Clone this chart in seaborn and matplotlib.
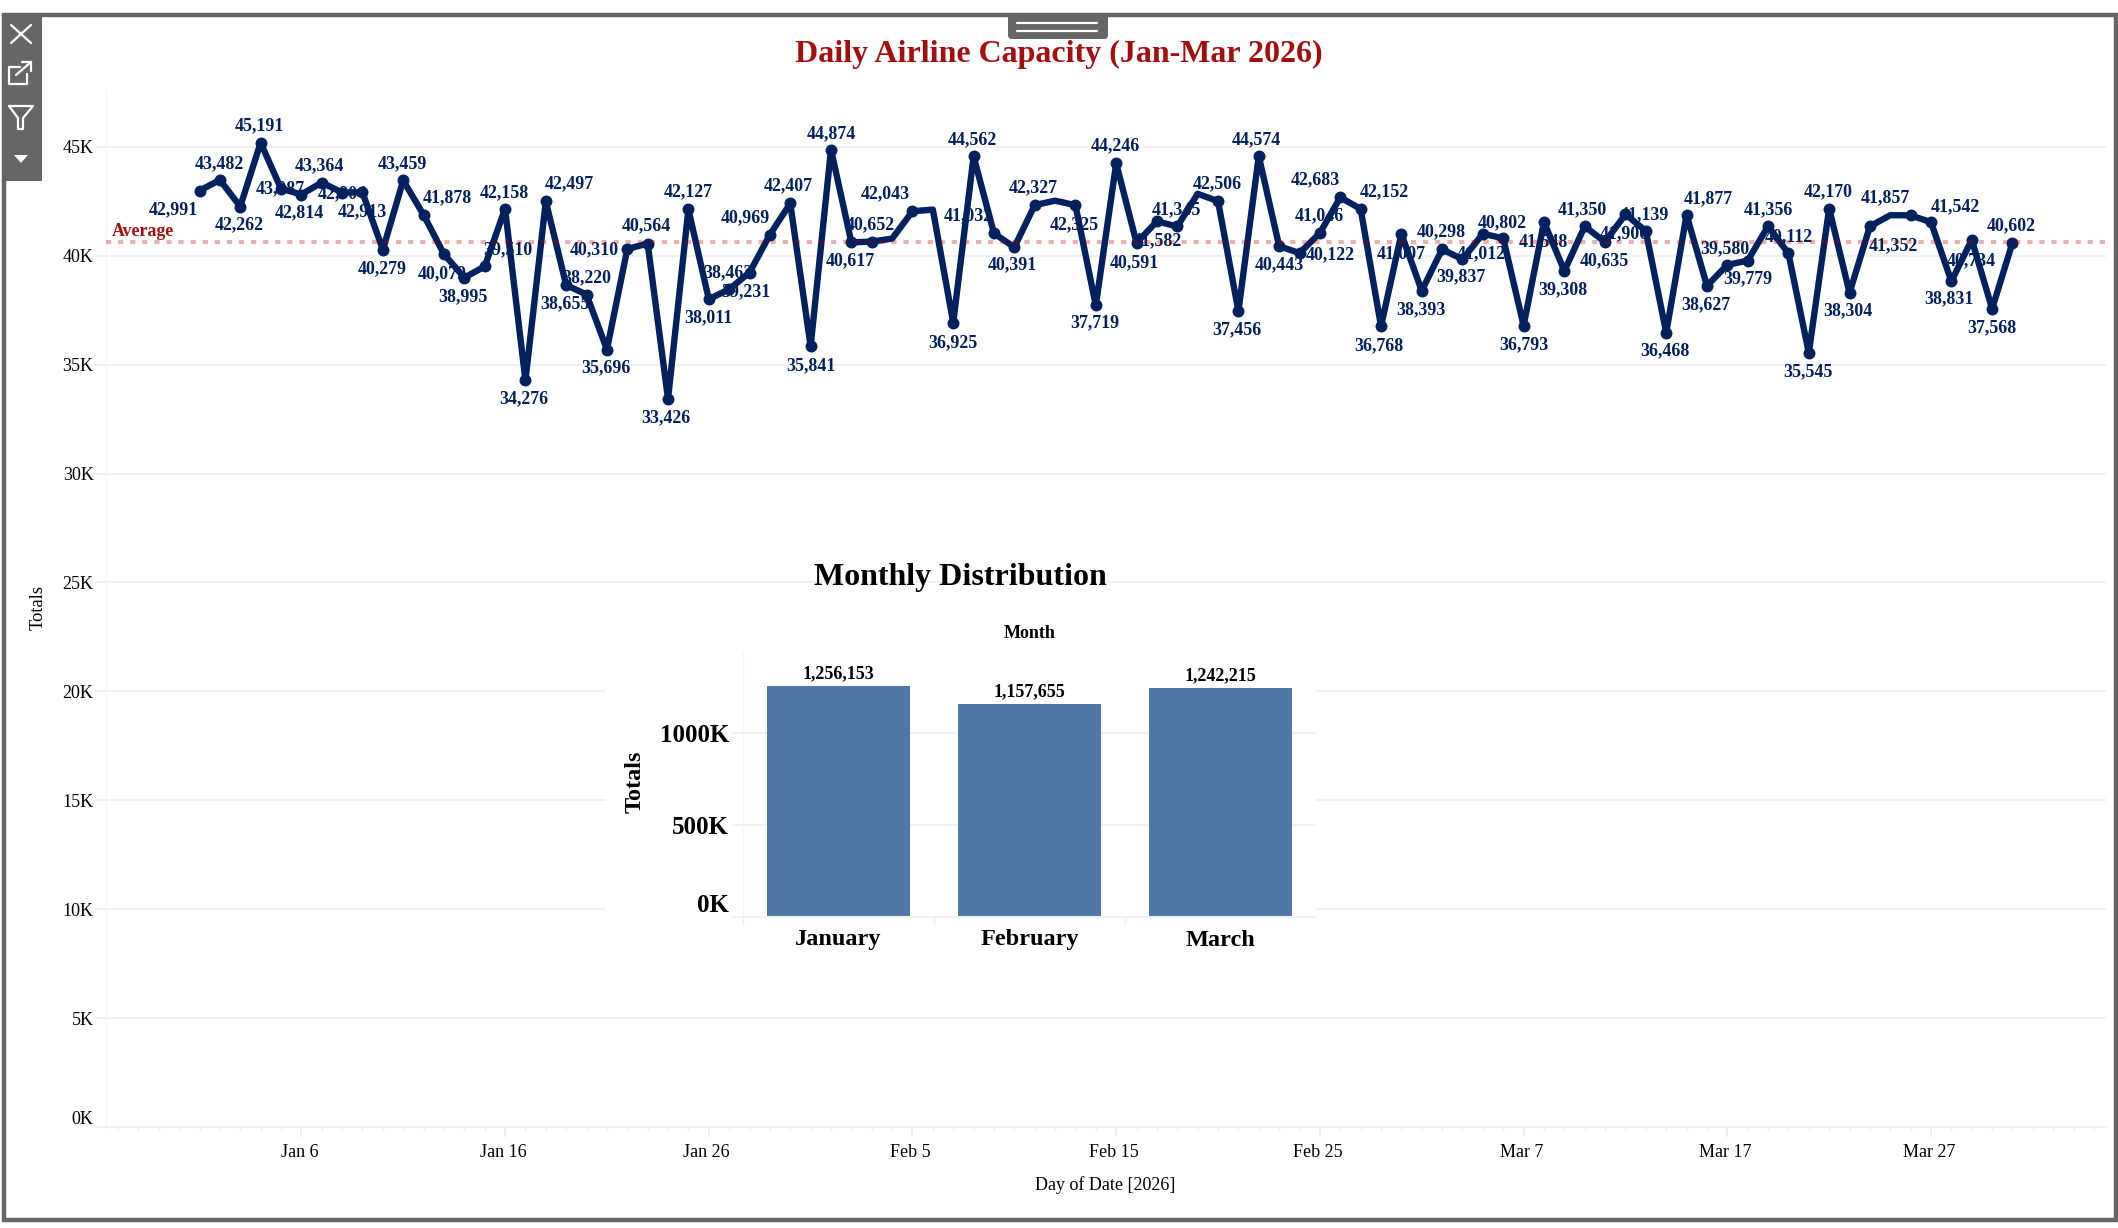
import numpy as np
import pandas as pd
import matplotlib
matplotlib.use("Agg")
import matplotlib.pyplot as plt
from matplotlib.lines import Line2D
from matplotlib.patches import FancyBboxPatch, Polygon, Rectangle
from matplotlib.ticker import FixedLocator, FuncFormatter
from matplotlib.transforms import Affine2D
import seaborn as sns

# values
JAN_TOTALS = [42991, 43482, 42262, 45191, 43087, 42814, 43364, 42904, 42913, 40279,
              43459, 41878, 40079, 38995, 39510, 42158, 34276, 42497, 38655, 38220,
              35696, 40310, 40564, 33426, 42127, 38011, 38462, 39231, 40969, 42407, 35841]
FEB_TOTALS = [44874, 40617, 40652, 40788, 42043, 42121, 36925, 44562, 41032, 40391,
              42327, 42530, 42325, 37719, 44246, 40591, 41582, 41345, 42848, 42506,
              37456, 44574, 40443, 40122, 41046, 42683, 42152, 36768]
MAR_TOTALS = [41007, 38393, 40298, 39837, 41012, 40802, 36793, 41548, 39308, 41350,
              40635, 41906, 41139, 36468, 41877, 38627, 39580, 39779, 41356, 40112,
              35545, 42170, 38304, 41352, 41864, 41857, 41542, 38831, 40734, 37568, 40602]
UNLABELLED_DAYS = ["2026-02-04", "2026-02-06", "2026-02-12", "2026-02-19", "2026-03-25"]
AVERAGE = 40622

MONTHS = ["January", "February", "March"]
MONTH_TOTALS = [1256153, 1157655, 1242215]

Y_TICKS = [0, 5000, 10000, 15000, 20000, 25000, 30000, 35000, 40000, 45000]
X_TICK_DATES = ["2026-01-06", "2026-01-16", "2026-01-26", "2026-02-05", "2026-02-15",
                "2026-02-25", "2026-03-07", "2026-03-17", "2026-03-27"]
X_TICK_LABELS = ["Jan 6", "Jan 16", "Jan 26", "Feb 5", "Feb 15", "Feb 25", "Mar 7", "Mar 17", "Mar 27"]
INSET_Y_TICKS = [0, 500000, 1000000]

# label placement relative to its point, in pixels, one per labelled day
LABEL_OFFSETS = [
    (-26, -18), (0, 18), (-1, -17), (-1, 18), (-1, 1), (-2, -17), (-2, 18), (0, 0), (0, -18), (-1, -18),
    (-1, 18), (24, 19), (-2, -18), (-1, -18), (23, 18), (-1, 18), (-2, -17), (24, 19), (-1, -17), (0, 18),
    (-1, -17), (-33, 1), (-1, 19), (-2, -17), (0, 19), (0, -17), (-1, 18), (-4, -18), (-25, 18), (-2, 19), (0, -18),
    # February
    (0, 17), (-1, -17), (-1, 18), (-27, 19), (0, -18), (-1, 18), (-26, 19), (-2, -16),
    (-1, 19), (-1, -18), (-1, -16), (-1, 19), (-2, -18), (0, -18), (-1, 18), (-1, 19),
    (-2, -17), (-2, 18), (0, -17), (31, 0), (-1, 19), (-25, 19), (24, 19), (-2, -18),
    # March
    (0, -18), (-1, -17), (-1, 19), (-2, -16), (-2, -18), (-1, 17), (0, -18), (-1, -18), (-1, -17), (-2, 18),
    (-1, -17), (-1, -18), (-1, 18), (-1, -17), (22, 18), (-1, -18), (-2, 18), (0, -17), (0, 18), (0, 18),
    (-1, -17), (-1, 18), (-2, -17), (23, -18), (-25, 19), (24, 17), (-2, -16), (0, -19), (0, -17), (-1, 18),
]

W, H = 2118, 1228
NAVY = "#03205f"
GRID = "#f1f1f1"
FONT = ["Liberation Serif", "DejaVu Serif"]

sns.set_theme(style="white")
plt.rcParams["font.family"] = FONT

df = pd.DataFrame({
    "date": pd.date_range("2026-01-01", "2026-03-31", freq="D"),
    "total": JAN_TOTALS + FEB_TOTALS + MAR_TOTALS,
})
df["labelled"] = ~df["date"].isin(pd.to_datetime(UNLABELLED_DAYS))
marked = df[df["labelled"]]

fig = plt.figure(figsize=(W / 100, H / 100), dpi=100)
pix = Affine2D().scale(1, -1).translate(0, H)  # top-left pixel coordinates


def axes_at(left, top, right, bottom):
    return fig.add_axes([left / W, 1 - bottom / H, (right - left) / W, (bottom - top) / H])


def style_axis_lines(ax, bottom_width):
    for side in ["top", "right"]:
        ax.spines[side].set_visible(False)
    ax.spines["left"].set_color("#f6f6f6")
    ax.spines["left"].set_linewidth(1)
    ax.spines["bottom"].set_color(GRID)
    ax.spines["bottom"].set_linewidth(bottom_width)
    ax.grid(axis="y", color=GRID, linewidth=1.5)
    ax.set_axisbelow(True)


# ---- daily line ----
ax = axes_at(106, 90, 2106, 1127)
sns.lineplot(data=df, x="date", y="total", color=NAVY, linewidth=4.6, ax=ax, zorder=3, errorbar=None)
sns.scatterplot(data=marked, x="date", y="total", color=NAVY, s=74, linewidth=0, ax=ax, zorder=3)

for (_, row), (dx, dy) in zip(marked.iterrows(), LABEL_OFFSETS):
    ax.annotate(f"{row['total']:,}", xy=(row["date"], row["total"]), xytext=(dx, dy - 1.5),
                textcoords="offset pixels", ha="center", va="center", fontsize=12.9,
                fontweight="bold", color=NAVY, zorder=2, annotation_clip=False)

ax.axhline(AVERAGE, color="#b00000", alpha=0.3, linewidth=3, linestyle=(0, (1.25, 1.65)),
           dash_capstyle="butt", zorder=4)
ax.text(112, 232, "Average", transform=pix, color="#a80d0d", fontsize=12.9, fontweight="bold",
        ha="left", va="center", zorder=2)

start = pd.Timestamp("2026-01-01")
ax.set_xlim(start - pd.Timedelta(days=4.59), start + pd.Timedelta(days=93.59))
ax.set_ylim(0, 47612)
style_axis_lines(ax, 1.5)
ax.set_xticks(pd.to_datetime(X_TICK_DATES))
ax.set_xticklabels(X_TICK_LABELS)
ax.set_xticks(pd.date_range("2025-12-28", "2026-04-04", freq="D"), minor=True)
ax.yaxis.set_major_locator(FixedLocator(Y_TICKS))
ax.yaxis.set_major_formatter(FuncFormatter(lambda v, _: f"{v / 1000:.0f}K"))
ax.tick_params(axis="x", which="major", length=7.5, width=1.2, color="#eeeeee", pad=5,
               labelsize=13, labelcolor="black", bottom=True)
ax.tick_params(axis="x", which="minor", length=2.5, width=1, color="#eeeeee", bottom=True)
ax.tick_params(axis="y", length=8, width=1.5, color=GRID, pad=1, labelsize=13, labelcolor="black", left=True)
ax.set_xlabel("")
ax.set_ylabel("")
ax.yaxis.get_ticklabels()[0].set_transform(ax.yaxis.get_ticklabels()[0].get_transform() + Affine2D().translate(0, 10))
for label in ax.get_xticklabels():
    label.set_transform(label.get_transform() + Affine2D().translate(-2, 0))

ax.add_patch(Rectangle((606, 596), 710, 384, transform=pix, facecolor="white", edgecolor="none",
                       clip_on=False, zorder=1))

# ---- monthly bars over a white box ----
inset = axes_at(743, 653, 1316, 917)
inset.set_facecolor("none")
sns.barplot(x=MONTHS, y=MONTH_TOTALS, color="#4e79a7", saturation=1, width=0.75, linewidth=0,
            edgecolor="none", ax=inset, zorder=2)
inset.set_xlim(-0.5, 2.5)
inset.set_ylim(0, 1435000)
style_axis_lines(inset, 1.5)
inset.yaxis.set_major_locator(FixedLocator(INSET_Y_TICKS))
inset.yaxis.set_major_formatter(FuncFormatter(lambda v, _: f"{v / 1000:.0f}K"))
inset.set_xticks([-0.5, 0.5, 1.5], minor=True)
inset.tick_params(axis="x", which="major", length=0, pad=9, labelsize=17.5)
inset.tick_params(axis="x", which="minor", length=6, width=1, color="#eeeeee", bottom=True)
inset.tick_params(axis="y", length=8, width=1.5, color=GRID, pad=2, labelsize=18, left=True)
for label in inset.get_xticklabels() + inset.get_yticklabels():
    label.set_fontweight("bold")
    label.set_color("black")
zero_label = inset.yaxis.get_ticklabels()[0]
zero_label.set_transform(zero_label.get_transform() + Affine2D().translate(0, 14))
inset.bar_label(inset.containers[0], labels=[f"{v:,}" for v in MONTH_TOTALS], padding=3,
                fontsize=13, fontweight="bold", color="black")
inset.set_xlabel("")
inset.set_ylabel("")

# ---- figure level text ----
fig.text(1059, 54, "Daily Airline Capacity (Jan-Mar 2026)", transform=pix, ha="center", va="center",
         fontsize=23, fontweight="bold", color="#a50e0e")
fig.text(960, 577, "Monthly Distribution", transform=pix, ha="center", va="center",
         fontsize=23, fontweight="bold", color="black", zorder=3)
fig.text(1030, 633, "Month", transform=pix, ha="center", va="center", fontsize=13,
         fontweight="bold", color="black")
fig.text(635, 782, "Totals", transform=pix, ha="center", va="center", rotation=90, fontsize=17.5,
         fontweight="bold", color="black")
fig.text(38.5, 607, "Totals", transform=pix, ha="center", va="center", rotation=90, fontsize=13.3, color="black")
fig.text(1105, 1185, "Day of Date [2026]", transform=pix, ha="center", va="center", fontsize=13, color="black")

# ---- dashboard frame and toolbar ----
FRAME = "#666666"
fig.add_artist(Rectangle((4, 15), 2112, 1205, transform=pix, fill=False, edgecolor=FRAME, linewidth=3.2, zorder=5))
fig.add_artist(Rectangle((4, 15), 38, 166, transform=pix, facecolor=FRAME, edgecolor="none", zorder=5))
fig.add_artist(FancyBboxPatch((1008, 13), 100, 26, boxstyle="round,pad=0,rounding_size=4", transform=pix,
                              facecolor=FRAME, edgecolor="none", zorder=5))
for y in [23, 31]:
    fig.add_artist(Line2D([1017, 1097], [y, y], transform=pix, color="white", linewidth=1.6, zorder=6))

icon_lines = [
    ([11, 31], [25, 43]), ([31, 11], [25, 43]),
    ([20, 9, 9, 27, 27], [67, 67, 84, 84, 74]),
    ([16, 31], [75, 62]), ([22, 31, 31], [62, 62, 71]),
    ([9, 33, 23, 23, 18, 18, 9], [106, 106, 118, 129, 129, 118, 106]),
]
for xs, ys in icon_lines:
    fig.add_artist(Line2D(xs, ys, transform=pix, color="white", linewidth=1.6, zorder=6))
fig.add_artist(Polygon([(14, 155), (28, 155), (21, 163)], transform=pix, facecolor="white",
                       edgecolor="none", zorder=6))

fig.savefig("out.png", dpi=100, facecolor="white")
